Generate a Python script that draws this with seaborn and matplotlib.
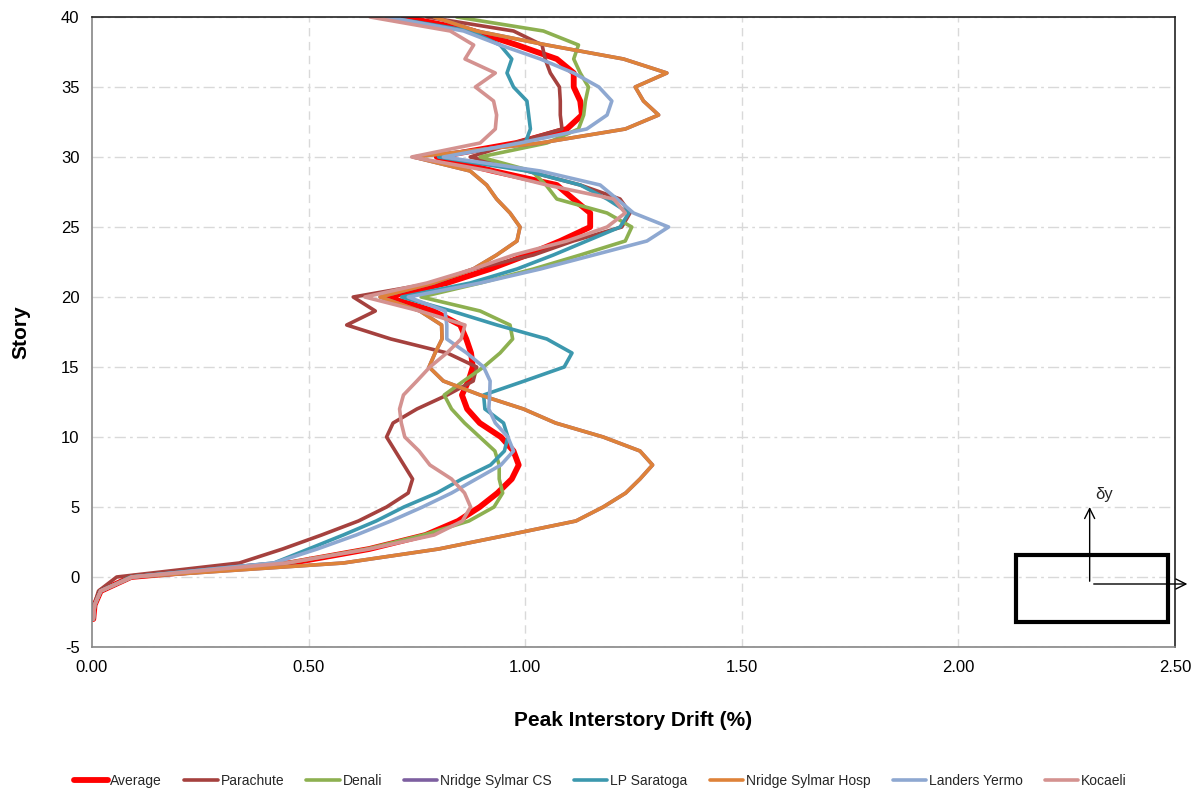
import matplotlib
matplotlib.use("Agg")
import matplotlib.pyplot as plt
import seaborn as sns
import pandas as pd
from matplotlib.patches import Rectangle

# stories from basement (-3) to roof (40)
stories = list(range(-3, 41))

average = [0.003, 0.006, 0.02, 0.09,
           0.46, 0.64, 0.77, 0.845, 0.895, 0.936, 0.969, 0.985, 0.973, 0.944,
           0.895, 0.866, 0.854, 0.869, 0.879, 0.875, 0.864, 0.85, 0.788, 0.68,
           0.819, 0.919, 1.004, 1.081, 1.15, 1.15, 1.111, 1.073, 0.926, 0.796,
           0.98, 1.096, 1.131, 1.127, 1.112, 1.112, 1.073, 0.981, 0.881, 0.719]
parachute = [0.003, 0.005, 0.015, 0.057,
             0.34, 0.44, 0.53, 0.615, 0.68, 0.73, 0.74, 0.72, 0.70, 0.68,
             0.695, 0.75, 0.82, 0.88, 0.888, 0.82, 0.69, 0.588, 0.654, 0.603,
             0.788, 0.881, 1.019, 1.111, 1.223, 1.242, 1.219, 1.127, 1.004, 0.873,
             0.975, 1.085, 1.081, 1.081, 1.079, 1.058, 1.046, 1.039, 0.973, 0.773]
denali = [0.003, 0.006, 0.02, 0.09,
          0.45, 0.635, 0.765, 0.87, 0.928, 0.948, 0.94, 0.94, 0.93, 0.895,
          0.86, 0.83, 0.813, 0.858, 0.904, 0.942, 0.971, 0.965, 0.896, 0.76,
          0.896, 1.019, 1.127, 1.231, 1.246, 1.189, 1.073, 1.048, 1.015, 0.896,
          1.05, 1.123, 1.135, 1.139, 1.146, 1.127, 1.112, 1.123, 1.042, 0.842]
lp_saratoga = [0.003, 0.006, 0.02, 0.09,
               0.42, 0.50, 0.58, 0.656, 0.72, 0.796, 0.854, 0.92, 0.952, 0.96,
               0.95, 0.907, 0.904, 0.998, 1.09, 1.108, 1.05, 0.935, 0.83, 0.715,
               0.873, 0.981, 1.065, 1.142, 1.219, 1.239, 1.189, 1.127, 1.004, 0.80,
               1.0, 1.012, 1.008, 1.004, 0.973, 0.958, 0.969, 0.942, 0.873, 0.68]
sylmar_hosp = [0.003, 0.006, 0.02, 0.094,
               0.58, 0.80, 0.96, 1.117, 1.18, 1.232, 1.265, 1.294, 1.265, 1.18,
               1.07, 0.996, 0.896, 0.811, 0.778, 0.792, 0.808, 0.807, 0.757, 0.665,
               0.788, 0.88, 0.934, 0.981, 0.988, 0.965, 0.934, 0.911, 0.873, 0.742,
               1.035, 1.231, 1.308, 1.273, 1.254, 1.327, 1.227, 1.05, 0.888, 0.79]
# the CS record is not visible in the source, it sits under the Hosp curve
sylmar_cs = list(sylmar_hosp)
landers = [0.003, 0.006, 0.02, 0.092,
           0.42, 0.52, 0.61, 0.69, 0.763, 0.83, 0.887, 0.944, 0.973, 0.96,
           0.931, 0.916, 0.918, 0.919, 0.904, 0.865, 0.819, 0.819, 0.815, 0.73,
           0.896, 1.035, 1.158, 1.281, 1.331, 1.25, 1.212, 1.173, 1.035, 0.811,
           0.988, 1.142, 1.189, 1.2, 1.17, 1.112, 1.035, 0.942, 0.858, 0.68]
kocaeli = [0.003, 0.006, 0.02, 0.092,
           0.45, 0.64, 0.79, 0.855, 0.874, 0.86, 0.83, 0.78, 0.755, 0.722,
           0.714, 0.71, 0.719, 0.75, 0.78, 0.819, 0.852, 0.861, 0.757, 0.63,
           0.773, 0.88, 0.973, 1.096, 1.189, 1.231, 1.204, 1.05, 0.919, 0.738,
           0.896, 0.931, 0.934, 0.927, 0.885, 0.931, 0.861, 0.881, 0.827, 0.642]

series_names = ["Average", "Parachute", "Denali", "Nridge Sylmar CS", "LP Saratoga",
                "Nridge Sylmar Hosp", "Landers Yermo", "Kocaeli"]
series_values = [average, parachute, denali, sylmar_cs, lp_saratoga,
                 sylmar_hosp, landers, kocaeli]
colores = ["#FF0000", "#A5413E", "#8DB050", "#7D5FA0", "#3C98AE",
           "#DE8239", "#8EA8D1", "#D49290"]

sns.set_style("white")
plt.rcParams['font.family'] = ['Liberation Sans', 'DejaVu Sans']
plt.rcParams['axes.unicode_minus'] = False

fig = plt.figure(figsize=(12.01, 7.94), dpi=100)
ax = fig.add_axes([92 / 1201, 1 - 647 / 794, (1175 - 92) / 1201, (647 - 17) / 794])

# grid
for xv in [0.5, 1.0, 1.5, 2.0]:
    ax.axvline(xv, color="#D9D9D9", lw=1, dashes=(6, 4), zorder=0)
for yv in range(-5, 41, 5):
    ax.axhline(yv, color="#D9D9D9", lw=1, dashes=(8, 3, 2, 3), zorder=0)

for nombre, valores, color in zip(series_names, series_values, colores):
    df = pd.DataFrame({"drift": valores, "story": stories})
    sns.lineplot(data=df, x="drift", y="story", sort=False, orient="y", ax=ax,
                 color=color, lw=4.2 if nombre == "Average" else 2.6,
                 label=nombre, legend=False)

ax.set_xlim(0, 2.5)
ax.set_ylim(-5, 40)
ax.set_xticks([0, 0.5, 1.0, 1.5, 2.0, 2.5])
ax.set_xticklabels([f"{v:.2f}" for v in [0, 0.5, 1.0, 1.5, 2.0, 2.5]])
ax.set_yticks(range(-5, 41, 5))
ax.tick_params(axis="both", labelsize=12, direction="out", length=5,
               color="#868686", width=1, pad=4, labelcolor="black")
ax.tick_params(axis="x", pad=4)

for lado in ["left", "bottom"]:
    ax.spines[lado].set_color("#868686")
    ax.spines[lado].set_linewidth(1.2)
for lado in ["top", "right"]:
    ax.spines[lado].set_color("#222222")
    ax.spines[lado].set_linewidth(1.2)

ax.set_xlabel("Peak Interstory Drift (%)", fontsize=15, fontweight="bold",
              labelpad=26, color="black")
ax.set_ylabel("Story", fontsize=15, fontweight="bold", labelpad=22, color="black")

# small sketch of the floor plan with drift direction
ax.add_patch(Rectangle((2.132, -3.2), 0.351, 4.77, fill=False, lw=3,
                       edgecolor="black", zorder=5))
ax.annotate("", xy=(2.303, 5.2), xytext=(2.303, -0.5),
            arrowprops=dict(arrowstyle="->", lw=1, color="black",
                            mutation_scale=18), zorder=6)
ax.annotate("", xy=(2.535, -0.5), xytext=(2.306, -0.5), annotation_clip=False,
            arrowprops=dict(arrowstyle="->", lw=1, color="black",
                            mutation_scale=18), zorder=6)
ax.text(2.315, 5.9, "δy", fontsize=12, ha="left", va="center")

handles, labels = ax.get_legend_handles_labels()
fig.legend(handles, labels, loc="lower center", bbox_to_anchor=(0.5, -0.008),
           ncol=8, frameon=False, handlelength=2.4,
           handletextpad=0.2, columnspacing=1.6,
           prop={"family": ["Liberation Sans Narrow", "Liberation Sans"], "size": 10})

fig.savefig("out.png", dpi=100)
